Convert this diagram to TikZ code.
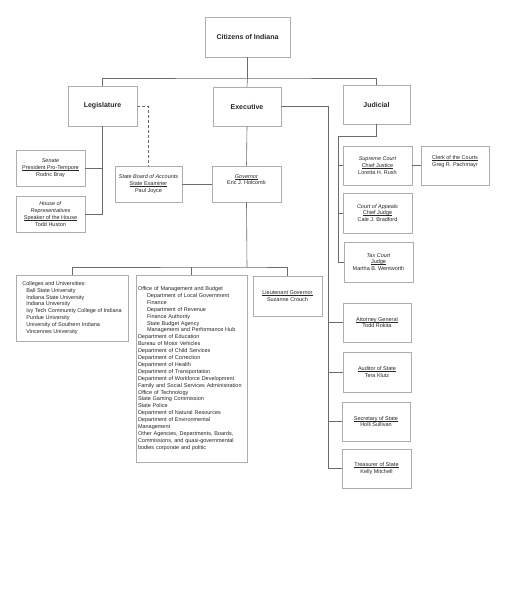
\documentclass[tikz,border=0pt]{standalone}
\usepackage{fontspec}
\setmainfont{Liberation Sans}
\definecolor{boxline}{gray}{0.68}
\definecolor{conline}{gray}{0.42}
\definecolor{txt}{gray}{0.15}
\tikzset{
  box/.style={draw=boxline, line width=0.7pt, fill=white, align=center, inner sep=1pt,
    text=txt, font=\fontsize{5.5}{6.8}\selectfont},
  listbox/.style={box, align=left, font=\fontsize{5.5}{6.9}\selectfont},
  headbox/.style={box, font=\fontsize{7}{8.4}\selectfont\bfseries},
  con/.style={draw=conline, line width=0.6pt},
  dashcon/.style={con, dashed, dash pattern=on 3pt off 2pt},
}
\newcommand{\ul}[1]{\setbox0\hbox{#1}\rlap{\rule[-0.8pt]{\wd0}{0.3pt}}\box0}
\begin{document}
\begin{tikzpicture}[x=1pt,y=-1pt]
\useasboundingbox (0,0) rectangle (505,600);
\fill[white] (0,0) rectangle (505,600);
% top level
\node[headbox, minimum width=85pt, minimum height=40pt] (citizens) at (247.5,37) {Citizens of Indiana};
\node[headbox, minimum width=69pt, minimum height=40pt] (legis) at (102.5,106) {Legislature};
\node[headbox, minimum width=68pt, minimum height=39pt] (exec) at (247,106.5) {Executive};
\node[headbox, minimum width=67pt, minimum height=39pt] (jud) at (376.5,104.5) {Judicial};
% legislature
\node[box, minimum width=69pt, minimum height=36pt] (senate) at (50.5,168) {\textit{Senate}\\\ul{President Pro-Tempore}\\Rodric Bray};
\node[box, minimum width=69pt, minimum height=36pt] (house) at (50.5,214) {\textit{House of}\\\textit{Representatives}\\\ul{Speaker of the House}\\Todd Huston};
\node[box, minimum width=67pt, minimum height=36pt] (sboa) at (148.5,184) {\textit{State Board of Accounts}\\\ul{State Examiner}\\Paul Joyce};
% executive
\node[box, minimum width=69pt, minimum height=36pt] (gov) at (246.5,184) {\ul{\textit{Governor}}\\Eric J. Holcomb\\[2pt]};
% judicial
\node[box, minimum width=69pt, minimum height=39pt] (supreme) at (377.5,165.5) {\textit{Supreme Court}\\\ul{Chief Justice}\\Loretta H. Rush};
\node[box, minimum width=68pt, minimum height=39pt] (clerk) at (455,165.5) {\ul{Clerk of the Courts}\\Greg R. Pachmayr\\[2pt]};
\node[box, minimum width=69pt, minimum height=40pt] (appeals) at (377.5,213) {\textit{Court of Appeals}\\\ul{Chief Judge}\\Cale J. Bradford};
\node[box, minimum width=69pt, minimum height=40pt] (tax) at (378.5,262) {\textit{Tax Court}\\\ul{Judge}\\Martha B. Wentworth};
% lower executive
\node[listbox, minimum width=112pt, minimum height=66pt] (colleges) at (72,308) {%
Colleges and Universities:\\
\hspace*{4pt}Ball State University\\
\hspace*{4pt}Indiana State University\\
\hspace*{4pt}Indiana University\\
\hspace*{4pt}Ivy Tech Community College of Indiana\\
\hspace*{4pt}Purdue University\\
\hspace*{4pt}University of Southern Indiana\\
\hspace*{4pt}Vincennes University};
\node[listbox, minimum width=111pt, minimum height=187pt, text width=107pt] (agencies) at (191.5,368.5) {%
Office of Management and Budget\\
\hspace*{9pt}Department of Local Government\\
\hspace*{9pt}Finance\\
\hspace*{9pt}Department of Revenue\\
\hspace*{9pt}Finance Authority\\
\hspace*{9pt}State Budget Agency\\
\hspace*{9pt}Management and Performance Hub\\
Department of Education\\
Bureau of Motor Vehicles\\
Department of Child Services\\
Department of Correction\\
Department of Health\\
Department of Transportation\\
Department of Workforce Development\\
Family and Social Services Administration\\
Office of Technology\\
State Gaming Commission\\
State Police\\
Department of Natural Resources\\
Department of Environmental\\
Management\\
Other Agencies, Departments, Boards,\\
Commissions, and quasi-governmental\\
bodies corporate and politic};
\node[box, minimum width=69pt, minimum height=40pt] (ltgov) at (287.5,296) {\ul{Lieutenant Governor}\\Suzanne Crouch};
\node[box, minimum width=68pt, minimum height=39pt] (ag) at (377,322.5) {\ul{Attorney General}\\Todd Rokita};
\node[box, minimum width=68pt, minimum height=40pt] (aud) at (377,372) {\ul{Auditor of State}\\Tera Klutz};
\node[box, minimum width=68pt, minimum height=39pt] (sos) at (376,421.5) {\ul{Secretary of State}\\Holli Sullivan};
\node[box, minimum width=69pt, minimum height=39pt] (treas) at (376.5,468.5) {\ul{Treasurer of State}\\Kelly Mitchell};
% connectors
\coordinate (bus1) at (247.5,78);
\draw[con] (citizens.south) -- (bus1);
\draw[con] (legis.north) |- (bus1) -| (jud.north);
\draw[con] (bus1) -- (exec.north);
\draw[dashcon] (legis.east) -| (sboa.north);
\draw[con] (legis.south) |- (house.east);
\draw[con] (senate.east) -- (senate.east -| legis.south);
\draw[con] (sboa.east) -- (gov.west);
\draw[con] (exec.south) -- (gov.north);
\coordinate (bus2) at (247,267);
\draw[con] (gov.south) -- (bus2);
\draw[con] (colleges.north) |- (bus2) -| (ltgov.north);
\draw[con] (agencies.north) -- (agencies.north |- bus2);
\coordinate (ej) at (328,106.5);
\draw[con] (exec.east) -- (ej) |- (treas.west);
\draw[con] (ag.west) -- (ag.west -| ej);
\draw[con] (aud.west) -- (aud.west -| ej);
\draw[con] (sos.west) -- (sos.west -| ej);
\coordinate (jj) at (338,136);
\draw[con] (jud.south) |- (jj) |- (tax.west);
\draw[con] (supreme.west) -- (supreme.west -| jj);
\draw[con] (appeals.west) -- (appeals.west -| jj);
\draw[con] (supreme.east) -- (clerk.west);
\end{tikzpicture}
\end{document}
